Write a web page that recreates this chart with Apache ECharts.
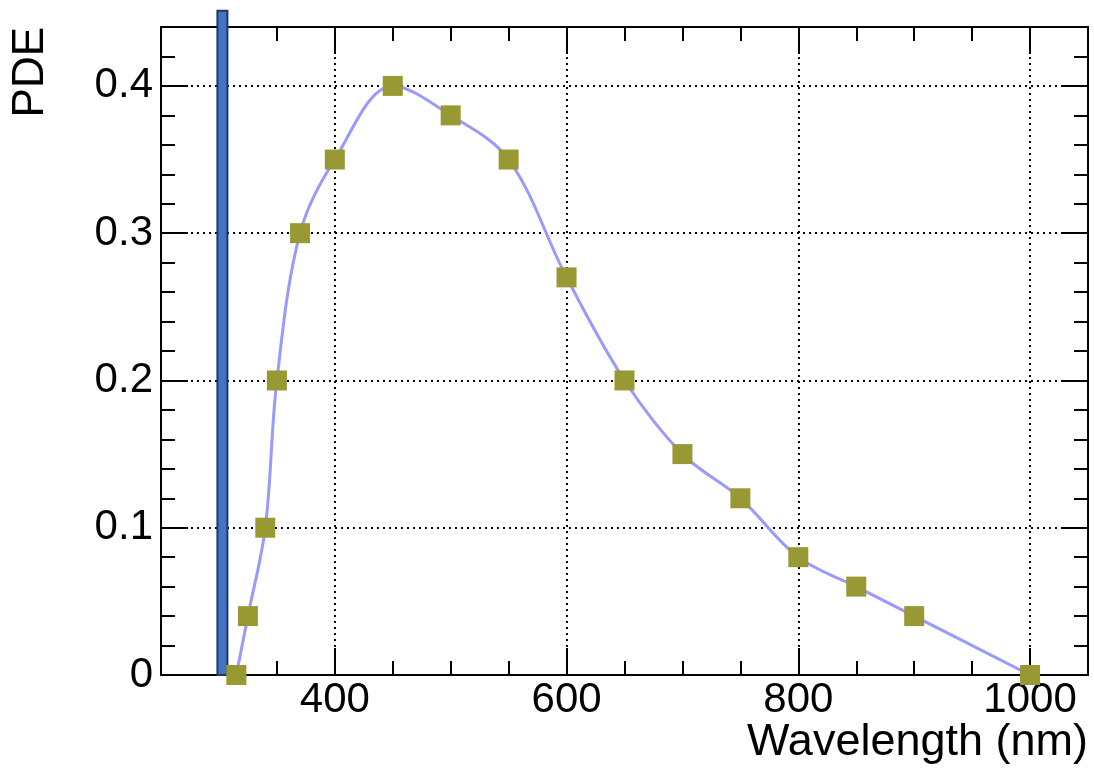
<!DOCTYPE html>
<html><head><meta charset="utf-8">
<script src="https://cdn.jsdelivr.net/npm/echarts@6/dist/echarts.min.js"></script>
<style>html,body{margin:0;padding:0;background:#fff}#c{width:1094px;height:775px}</style>
</head><body><div id="c"></div>
<script>
// ---- data ----
const wavelength = [315, 325, 340, 350, 370, 400, 450, 500, 550, 600, 650, 700, 750, 800, 850, 900, 1000];
const pde = [0, 0.04, 0.1, 0.2, 0.3, 0.35, 0.4, 0.38, 0.35, 0.27, 0.2, 0.15, 0.12, 0.08, 0.06, 0.04, 0];
const xTickLabels = [400, 600, 800, 1000];
const yTickLabels = [0, 0.1, 0.2, 0.3, 0.4];
const cutoffWavelength = [303];
const cutoffTop = [0.451];
const xTitle = 'Wavelength (nm)';
const yTitle = 'PDE';

const XMIN = 250, XMAX = 1050, YMIN = 0, YMAX = 0.44;
const font = 'Liberation Sans, Arial, Helvetica, sans-serif';

const points = wavelength.map((w, i) => [w, pde[i]]);
const bars = cutoffWavelength.map((w, i) => [w, cutoffTop[i]]);

const axisLineStyle = { show: true, onZero: false, lineStyle: { color: '#000', width: 2 } };
const dotted = { show: true, lineStyle: { color: '#000', width: 2, type: [2, 4] } };

function majorX(pos, withLabels, withSplit) {
  return {
    type: 'value', position: pos, min: XMIN, max: XMAX,
    axisLine: axisLineStyle,
    axisTick: { show: true, inside: true, length: 27, customValues: xTickLabels, lineStyle: { color: '#000', width: 2 } },
    axisLabel: withLabels ? { show: true, customValues: xTickLabels, fontSize: 42, fontFamily: font, color: '#000', margin: 4, formatter: v => String(v) } : { show: false },
    splitLine: withSplit ? dotted : { show: false }
  };
}
function minorX(pos) {
  return {
    type: 'value', position: pos, min: XMIN, max: XMAX, interval: 50,
    axisLine: { show: false, onZero: false },
    axisTick: { show: true, inside: true, length: 14, lineStyle: { color: '#000', width: 2 } },
    axisLabel: { show: false }, splitLine: { show: false }
  };
}
function majorY(pos, withLabels, withSplit) {
  return {
    type: 'value', position: pos, min: YMIN, max: YMAX,
    axisLine: axisLineStyle,
    axisTick: { show: true, inside: true, length: 27, customValues: yTickLabels, lineStyle: { color: '#000', width: 2 } },
    axisLabel: withLabels ? { show: true, customValues: yTickLabels, fontSize: 42, fontFamily: font, color: '#000', margin: 8, formatter: v => String(+v.toFixed(2)) } : { show: false },
    splitLine: withSplit ? dotted : { show: false }
  };
}
function minorY(pos) {
  return {
    type: 'value', position: pos, min: YMIN, max: YMAX, interval: 0.02,
    axisLine: { show: false, onZero: false },
    axisTick: { show: true, inside: true, length: 14, lineStyle: { color: '#000', width: 2 } },
    axisLabel: { show: false }, splitLine: { show: false }
  };
}

const chart = echarts.init(document.getElementById('c'), null, { renderer: 'canvas' });
chart.setOption({
  animation: false,
  backgroundColor: '#fff',
  grid: { left: 161, right: 6, top: 27, bottom: 100, containLabel: false },
  xAxis: [majorX('bottom', true, true), minorX('bottom'), majorX('top', false, false), minorX('top')],
  yAxis: [majorY('left', true, true), minorY('left'), majorY('right', false, false), minorY('right')],
  graphic: [
    { type: 'text', x: 31, y: 27, rotation: Math.PI / 2, z: 100,
      style: { text: yTitle, font: '44px ' + font, fill: '#000', align: 'right', verticalAlign: 'middle' } },
    { type: 'text', x: 1088, y: 743, z: 100,
      style: { text: xTitle, font: '45px ' + font, fill: '#000', align: 'right', verticalAlign: 'middle' } }
  ],
  series: [
    {
      type: 'custom', xAxisIndex: 0, yAxisIndex: 0, clip: false, z: 3,
      data: bars,
      renderItem: function (params, api) {
        const p0 = api.coord([api.value(0), 0]);
        const p1 = api.coord([api.value(0), api.value(1)]);
        const w = 10;
        return { type: 'rect', shape: { x: p0[0] - w / 2, y: p1[1], width: w, height: p0[1] - p1[1] },
          style: { fill: '#4472c4', stroke: '#1f3864', lineWidth: 2 } };
      }
    },
    {
      type: 'line', xAxisIndex: 0, yAxisIndex: 0, data: points, z: 5,
      smooth: 0.35,
      symbol: 'rect', symbolSize: 20,
      lineStyle: { color: '#9999ff', width: 3 },
      itemStyle: { color: '#999933', borderWidth: 0 },
      emphasis: { disabled: true }
    }
  ]
});
</script></body></html>
